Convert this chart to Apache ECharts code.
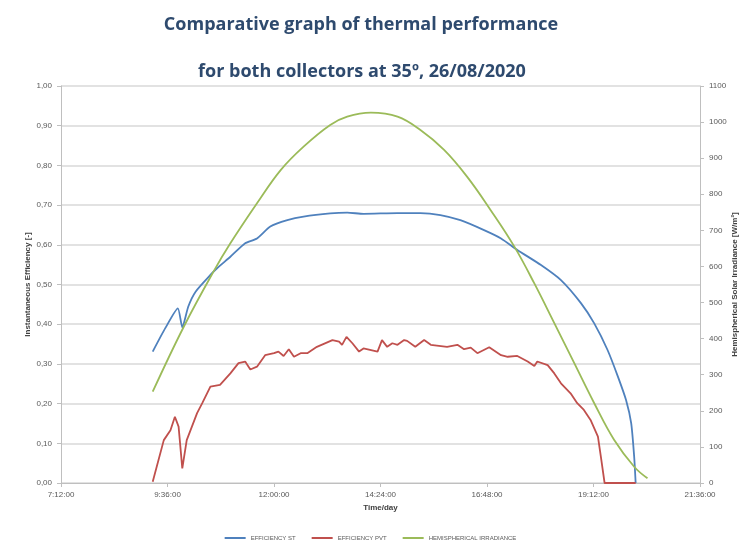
<!DOCTYPE html>
<html>
<head>
<meta charset="utf-8">
<script src="https://cdn.jsdelivr.net/npm/echarts@6/dist/echarts.min.js"></script>
<style>
  html, body { margin: 0; padding: 0; background: #fff; }
  #chart { width: 741px; height: 544px; }
</style>
</head>
<body>
<div id="chart"></div>
<script>
// time in minutes since midnight
var stTime = [556, 573, 590, 596, 604, 614, 634, 643, 661, 681, 697, 715, 738, 760, 796, 819, 841, 887, 918, 945, 972, 1004, 1027, 1049, 1081, 1108, 1135, 1153, 1171, 1185, 1196, 1203, 1207, 1209];
var stEff = [0.331, 0.39, 0.44, 0.392, 0.444, 0.482, 0.524, 0.541, 0.570, 0.604, 0.616, 0.646, 0.662, 0.671, 0.679, 0.681, 0.678, 0.68, 0.68, 0.675, 0.662, 0.637, 0.616, 0.587, 0.549, 0.511, 0.453, 0.402, 0.335, 0.268, 0.209, 0.150, 0.066, 0.0];

var pvtTime = [556, 571, 580, 586, 591, 596, 602, 616, 623, 634, 647, 661, 672, 681, 688, 697, 708, 720, 726, 733, 740, 747, 756, 765, 778, 799, 808, 812, 818, 826, 835, 841, 860, 866, 873, 880, 887, 896, 900, 911, 923, 932, 954, 968, 977, 986, 995, 1011, 1027, 1036, 1049, 1063, 1072, 1076, 1090, 1099, 1108, 1121, 1130, 1139, 1148, 1158, 1162, 1167, 1209];
var pvtEff = [0.003, 0.108, 0.133, 0.167, 0.142, 0.037, 0.108, 0.176, 0.201, 0.243, 0.247, 0.276, 0.302, 0.306, 0.286, 0.293, 0.322, 0.327, 0.331, 0.32, 0.337, 0.318, 0.327, 0.327, 0.343, 0.36, 0.356, 0.348, 0.368, 0.352, 0.331, 0.339, 0.331, 0.36, 0.343, 0.352, 0.348, 0.36, 0.358, 0.343, 0.36, 0.348, 0.343, 0.348, 0.337, 0.341, 0.327, 0.342, 0.322, 0.318, 0.32, 0.306, 0.295, 0.306, 0.297, 0.276, 0.251, 0.226, 0.201, 0.184, 0.159, 0.117, 0.066, 0.0, 0.0];

var irrTime = [556, 598, 638, 661, 697, 729, 760, 796, 819, 851, 887, 918, 950, 981, 1013, 1045, 1072, 1099, 1126, 1153, 1180, 1207, 1225];
var irr = [253, 433, 585, 664, 775, 867, 932, 992, 1015, 1026, 1015, 978, 923, 849, 756, 655, 553, 443, 332, 221, 119, 45, 13];

var seriesNames = ['EFFICIENCY ST', 'EFFICIENCY PVT', 'HEMISPHERICAL IRRADIANCE'];

function pairs(t, v) {
  return t.map(function (x, i) { return [x, v[i]]; });
}

function timeLabel(m) {
  var h = Math.floor(m / 60), mm = m % 60;
  return h + ':' + (mm < 10 ? '0' : '') + mm + ':00';
}

var labelStyle = { color: '#595959', fontSize: 8, fontFamily: 'Liberation Sans' };
var nameStyle = { color: '#404040', fontSize: 8, fontWeight: 'bold', fontFamily: 'Liberation Sans' };
var titleStyle = { color: '#2e4a6e', fontSize: 18, fontWeight: 'bold', fontFamily: 'Open Sans' };
var gridColor = '#d9d9d9';

var chart = echarts.init(document.getElementById('chart'));
chart.setOption({
  animation: false,
  color: ['#4f81bd', '#c0504d', '#9bbb59'],
  title: [
    { text: 'Comparative graph of thermal performance', left: 356, textAlign: 'center', top: 11, textStyle: titleStyle },
    { text: 'for both collectors at 35º, 26/08/2020', left: 357, textAlign: 'center', top: 58, textStyle: titleStyle }
  ],
  grid: { left: 61, right: 41, top: 86, bottom: 61, outerBoundsMode: 'none', containLabel: false },
  legend: {
    data: seriesNames,
    top: 535,
    left: 'center',
    padding: 0,
    icon: 'rect',
    itemWidth: 21,
    itemHeight: 2,
    itemGap: 16,
    textStyle: { color: '#595959', fontSize: 6, fontFamily: 'Liberation Sans' }
  },
  xAxis: {
    type: 'value',
    min: 432,
    max: 1296,
    interval: 144,
    name: 'Time/day',
    nameLocation: 'middle',
    nameGap: 21,
    nameTextStyle: nameStyle,
    axisLine: { lineStyle: { color: '#bfbfbf' } },
    axisTick: { show: true, length: 4, lineStyle: { color: '#bfbfbf' } },
    splitLine: { show: false },
    axisLabel: Object.assign({ formatter: timeLabel, margin: 8 }, labelStyle)
  },
  yAxis: [
    {
      type: 'value',
      min: 0,
      max: 1,
      interval: 0.1,
      name: 'Instantaneous Efficiency [-]',
      nameLocation: 'middle',
      nameGap: 29,
      nameMoveOverlap: false,
      nameTextStyle: nameStyle,
      axisLine: { show: true, lineStyle: { color: '#bfbfbf' } },
      axisTick: { show: true, length: 4, lineStyle: { color: '#bfbfbf' } },
      splitLine: { lineStyle: { color: gridColor, width: 1.5 } },
      axisLabel: Object.assign({
        margin: 9,
        formatter: function (v) { return v.toFixed(2).replace('.', ','); }
      }, labelStyle)
    },
    {
      type: 'value',
      min: 0,
      max: 1100,
      interval: 100,
      name: 'Hemispherical Solar Irradiance [W/m²]',
      nameLocation: 'middle',
      nameGap: 31,
      nameMoveOverlap: false,
      nameTextStyle: nameStyle,
      axisLine: { show: true, lineStyle: { color: '#bfbfbf' } },
      axisTick: { show: true, length: 4, lineStyle: { color: '#bfbfbf' } },
      splitLine: { show: false },
      axisLabel: Object.assign({
        margin: 9,
        formatter: function (v) { return String(v); }
      }, labelStyle)
    }
  ],
  series: [
    {
      name: seriesNames[0],
      type: 'line',
      yAxisIndex: 0,
      symbol: 'none',
      smooth: 0.2,
      data: pairs(stTime, stEff),
      lineStyle: { width: 1.8 }
    },
    {
      name: seriesNames[1],
      type: 'line',
      yAxisIndex: 0,
      symbol: 'none',
      data: pairs(pvtTime, pvtEff),
      lineStyle: { width: 1.8 }
    },
    {
      name: seriesNames[2],
      type: 'line',
      yAxisIndex: 1,
      symbol: 'none',
      smooth: 0.4,
      data: pairs(irrTime, irr),
      lineStyle: { width: 1.8 }
    }
  ]
});
</script>
</body>
</html>
